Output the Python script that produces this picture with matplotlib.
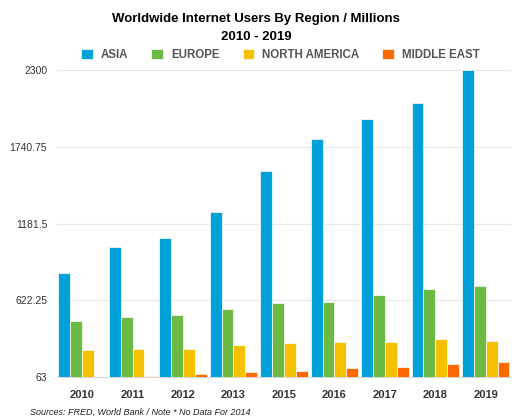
import matplotlib.pyplot as plt
import numpy as np

plt.rcParams['font.family'] = ['Liberation Sans', 'DejaVu Sans']

# data (millions)
years = ['2010', '2011', '2012', '2013', '2015', '2016', '2017', '2018', '2019']
asia = [824, 1013, 1074, 1263, 1561, 1794, 1939, 2060, 2300]
europe = [472, 502, 518, 562, 603, 611, 659, 703, 727]
north_america = [264, 271, 271, 300, 312, 320, 320, 344, 327]
middle_east = [63, 75, 89, 101, 111, 131, 140, 160, 172]

series = [('ASIA', asia, '#00A0D8'),
          ('EUROPE', europe, '#6CB943'),
          ('NORTH AMERICA', north_america, '#F6C100'),
          ('MIDDLE EAST', middle_east, '#FF6A00')]

yticks = [63, 622.25, 1181.5, 1740.75, 2300]
ytick_labels = ['63', '622.25', '1181.5', '1740.75', '2300']

fig = plt.figure(figsize=(5.12, 4.16), dpi=100)
ax = fig.add_axes([0.111, 0.093, 0.887, 0.739])

x = np.arange(len(years))
w = 0.235
for i, (name, vals, col) in enumerate(series):
    ax.bar(x + (i - 1.5) * w, np.array(vals) - 63, w, bottom=63, color=col,
           edgecolor='white', linewidth=0.5, label=name, zorder=3)

ax.set_xlim(-0.5, len(years) - 0.5)
ax.set_ylim(63, 2300)
ax.set_yticks(yticks)
ax.set_yticklabels(ytick_labels)
ax.set_xticks(x)
ax.set_xticklabels(years, fontweight='bold')
ax.tick_params(axis='both', length=0, labelsize=7.5, colors='#333333')
ax.tick_params(axis='x', pad=9, labelsize=8)
ax.tick_params(axis='y', pad=7)
ax.grid(axis='y', color='#e8e8e8', linewidth=0.8, zorder=0)
for s in ['top', 'right', 'left']:
    ax.spines[s].set_visible(False)
ax.spines['bottom'].set_color('#d8d8d8')

fig.text(0.5, 0.955, 'Worldwide Internet Users By Region / Millions',
         ha='center', va='center', fontsize=9.5, fontweight='bold')
fig.text(0.5, 0.912, '2010 - 2019', ha='center', va='center',
         fontsize=9.5, fontweight='bold')

leg = fig.legend(loc='center', bbox_to_anchor=(0.548, 0.868), ncol=4,
                 frameon=False, handlelength=1.0, handleheight=1.0,
                 handletextpad=0.7, columnspacing=2.0,
                 prop={'size': 8.3, 'weight': 'bold'})
for t in leg.get_texts():
    t.set_color('#555555')

fig.text(0.058, 0.004, 'Sources: FRED, World Bank / Note * No Data For 2014',
         fontsize=6.5, style='italic', color='#222222')

fig.savefig('out.png', dpi=100)
